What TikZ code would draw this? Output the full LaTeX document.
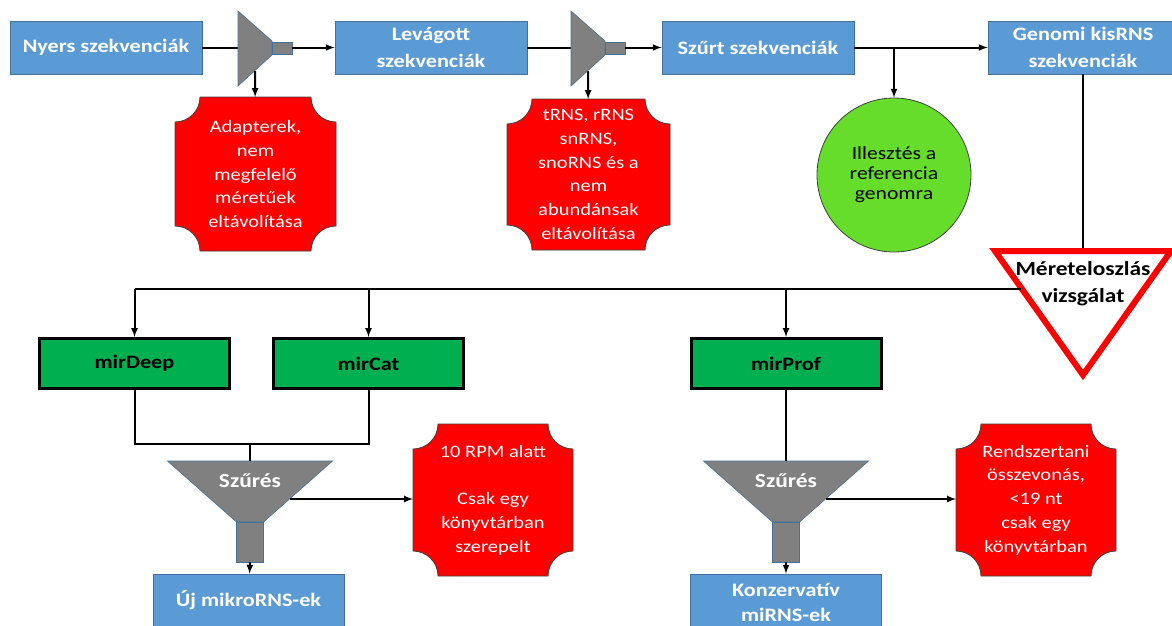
\documentclass[tikz,border=0pt]{standalone}
\usepackage{fontspec}
\setmainfont{Carlito}[FakeStretch=1.17]
\usepackage{tikz}
\usetikzlibrary{backgrounds}

\definecolor{seqblue}{HTML}{5B9BD5}
\definecolor{seqedge}{HTML}{41719C}
\definecolor{toolgreen}{HTML}{00B050}
\definecolor{boxred}{HTML}{FF0000}
\definecolor{circgreen}{HTML}{66DD2A}
\definecolor{funnelgray}{HTML}{808080}

\tikzset{
  seqbox/.style={rectangle, fill=seqblue, draw=seqedge, line width=0.8pt, text=white,
    font=\bfseries\fontsize{19}{27}\selectfont, align=center,
    minimum width=192pt, minimum height=53pt, inner sep=2pt},
  toolbox/.style={rectangle, fill=toolgreen, draw=black, line width=3pt,
    font=\bfseries\fontsize{19}{22}\selectfont, minimum width=190pt, minimum height=50pt},
  notchbox/.style={rectangle, text=white, align=center, outer sep=0pt,
    font=\fontsize{17.5}{23.7}\selectfont, minimum width=160pt, minimum height=152pt},
  funnelshape/.style={fill=funnelgray, draw=seqedge, line width=0.6pt},
  conn/.style={line width=2pt},
  flow/.style={conn, -latex}
}

% notched (concave corner) background of a red box
\newcommand{\notchbg}[1]{%
  \begin{scope}[on background layer]
  \filldraw[fill=boxred, draw=black!75, line width=0.8pt]
    ([xshift=25pt]#1.north west) -- ([xshift=-25pt]#1.north east)
    arc[start angle=180, end angle=270, radius=25pt]
    -- ([yshift=25pt]#1.south east)
    arc[start angle=90, end angle=180, radius=25pt]
    -- ([xshift=25pt]#1.south west)
    arc[start angle=0, end angle=90, radius=25pt]
    -- ([yshift=-25pt]#1.north west)
    arc[start angle=270, end angle=360, radius=25pt] -- cycle;
  \end{scope}}

\begin{document}
\begin{tikzpicture}[x=1pt, y=1pt]
\useasboundingbox (0,-625) rectangle (1172,0);

% top row
\node[seqbox] (nyers) at (106,-47.5) {Nyers szekvenciák};
\node[seqbox] (levagott) at (431,-47.5) {Levágott\\szekvenciák};
\node[seqbox] (szurt) at (758,-47.5) {Szűrt szekvenciák};
\node[seqbox, minimum width=190pt] (genomi) at (1083,-47.5) {Genomi kisRNS\\szekvenciák};

\node[notchbox, minimum width=161pt, minimum height=154pt] (adapter) at (255.5,-174) {Adapterek,\\nem\\megfelelő\\méretűek\\eltávolítása};
\notchbg{adapter}
\node[notchbox, minimum width=163pt, minimum height=151pt] (trns) at (588.5,-174.5) {tRNS, rRNS\\snRNS,\\snoRNS és a\\nem\\abundánsak\\eltávolítása};
\notchbg{trns}

\node[circle, fill=circgreen, draw=black!75, line width=0.8pt, minimum size=154pt, inner sep=0pt,
  align=center, font=\fontsize{18.5}{20}\selectfont] (illeszt) at (894,-175) {Illesztés a\\referencia\\genomra};

\draw[conn] (nyers) -- (238,-47.5) coordinate (a-in);
\draw[conn] (levagott) -- (571,-47.5) coordinate (b-in);
\foreach \n/\x in {a/238, b/571} {
  \filldraw[funnelshape] (\x,-11) -- (\x+34,-41) -- (\x+34,-55) -- (\x,-86) -- cycle;
  \filldraw[funnelshape] (\x+34,-42) rectangle (\x+54,-54);
  \coordinate (\n-out) at (\x+54,-47.5);
  \coordinate (\n-down) at (\x+17,-71);
}
\draw[flow] (a-out) -- (levagott);
\draw[flow] (a-down) -- (adapter);
\draw[flow] (b-out) -- (szurt);
\draw[flow] (b-down) -- (trns);
\draw[flow] (szurt) -- (genomi);
\draw[flow] (szurt.east -| illeszt.north) -- (illeszt);

% size distribution
\coordinate (tl) at (995,-251);
\coordinate (tr) at (1171,-251);
\coordinate (tip) at (1083,-375);
\draw[conn] (genomi) -- (genomi.south |- tl);
\filldraw[fill=white, draw=boxred, line width=6pt, line join=miter] (tl) -- (tr) -- (tip) -- cycle;
\node[align=center, font=\bfseries\fontsize{20}{27}\selectfont] (meret) at (1083,-283.5) {Méreteloszlás\\vizsgálat};
\coordinate (bus) at (1021,-289);

% tools
\node[toolbox] (mirdeep) at (134.5,-363.5) {mirDeep};
\node[toolbox] (mircat) at (368.5,-363.5) {mirCat};
\node[toolbox] (mirprof) at (786,-363.5) {mirProf};
\draw[conn] (bus) -- (mirdeep.north |- bus);
\foreach \t in {mirdeep, mircat, mirprof}
  \draw[flow] (\t.north |- bus) -- (\t);

% filtering
\foreach \n/\c in {c/250, d/786} {
  \filldraw[funnelshape] (\c-82.5,-461) -- (\c+82.5,-461) -- (\c+13.5,-522) -- (\c-13.5,-522) -- cycle;
  \filldraw[funnelshape] (\c-13.5,-522) rectangle (\c+13.5,-562);
  \node[text=white, font=\bfseries\fontsize{20}{22}\selectfont] (\n-label) at (\c,-481) {Szűrés};
  \coordinate (\n-top) at (\c,-461);
  \coordinate (\n-side) at (\c+40,-499);
  \coordinate (\n-stem) at (\c,-562);
}
\coordinate (join) at (250,-444);
\draw[conn] (mirdeep) |- (join) -| (mircat);
\draw[conn] (join) -- (c-top);
\draw[conn] (mirprof) -- (d-top);

\node[seqbox, minimum width=191pt] (uj) at (248.5,-600.5) {Új mikroRNS-ek};
\node[seqbox, minimum width=191pt, minimum height=56pt, font=\bfseries\fontsize{19}{25}\selectfont] (konz) at (786,-602) {Konzervatív\\miRNS-ek};
\draw[flow] (c-stem) -- (uj);
\draw[flow] (d-stem) -- (konz);

\node[notchbox] (rpm) at (493,-500) {10 RPM alatt\\[23.7pt]Csak egy\\könyvtárban\\szerepelt};
\notchbg{rpm}
\node[notchbox] (rendsz) at (1036,-500) {Rendszertani\\összevonás,\\<19 nt\\csak egy\\könyvtárban};
\notchbg{rendsz}
\draw[flow] (c-side) -- (rpm.west |- c-side);
\draw[flow] (d-side) -- (rendsz.west |- d-side);
\end{tikzpicture}
\end{document}
